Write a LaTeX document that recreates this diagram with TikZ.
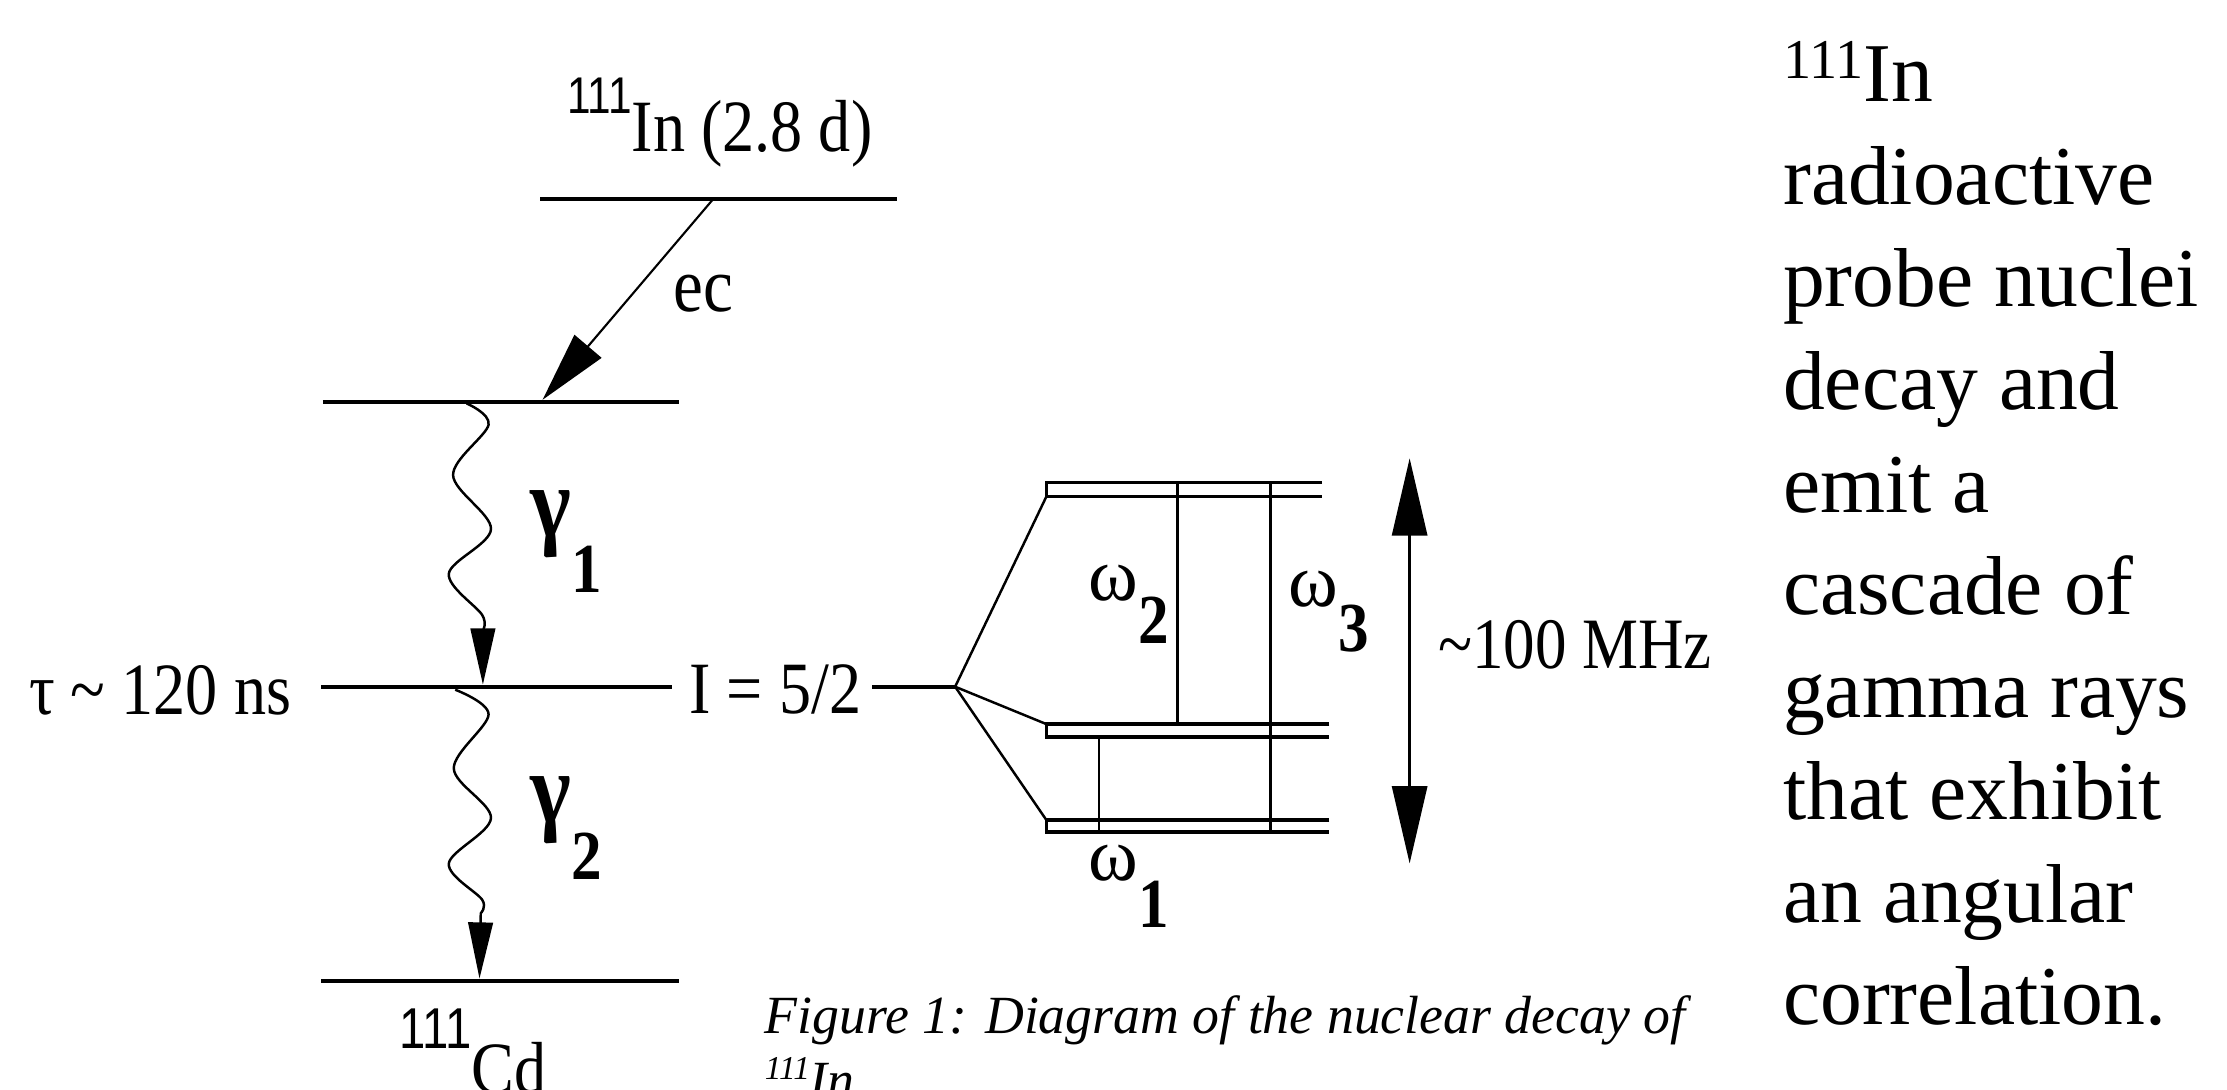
\documentclass[tikz,border=0pt]{standalone}
\usepackage{fontspec}
\setmainfont{Liberation Serif}
\newfontfamily\labf[FakeStretch=0.87]{Liberation Serif}
\newfontfamily\supf[FakeStretch=0.82]{Liberation Sans}
\usetikzlibrary{arrows.meta}
\begin{document}
\begin{tikzpicture}[x=0.4043pt,y=-0.4043pt,
  level/.style={line width=1.05pt},
  hf/.style={line width=0.95pt},
  thinline/.style={line width=0.7pt},
  wave/.style={line width=0.7pt,-{Triangle[length=16pt,width=7pt]}},
  lbl/.style={inner sep=0pt,anchor=base west,font=\labf\fontsize{21}{25}\selectfont},
  glbl/.style={inner sep=0pt,anchor=base west,font=\labf\bfseries\fontsize{28.5}{30}\selectfont},
  wlbl/.style={inner sep=0pt,anchor=base west,font=\fontsize{21.5}{24}\selectfont},
  txt/.style={inner sep=0pt,anchor=base west}]
\useasboundingbox (0,0) rectangle (1568,767);

% ---------- level coordinates
\coordinate (lv0L) at (380.5,140.1);
\coordinate (lv0R) at (631.5,140.1);
\coordinate (lv1L) at (227.3,282.8);
\coordinate (lv1R) at (477.8,282.8);
\coordinate (lv2L) at (226.3,483.5);
\coordinate (lv2R) at (473,483.5);
\coordinate (fanI) at (614,483.5);
\coordinate (fanO) at (672.5,483.5);
\coordinate (lv3L) at (226.3,690.5);
\coordinate (lv3R) at (478,690.5);

\draw[level] (lv0L) -- (lv0R);
\draw[level] (lv1L) -- (lv1R);
\draw[level] (lv2L) -- (lv2R);
\draw[level] (fanI) -- (fanO);
\draw[level] (lv3L) -- (lv3R);

% ---------- labels left part
\node[lbl] (inlab) at (399,106.8)
  {\raisebox{10.8pt}{\supf\fontsize{14.7}{15}\selectfont 111}In (2.8 d)};
\node[lbl,font=\labf\fontsize{22}{25}\selectfont] (ec) at (474,219.5) {ec};
\node[lbl] (tau) at (20,503) {τ \textasciitilde\ 120 ns};
\node[lbl] (spin) at (485,502.3) {I = 5/2};
\node[lbl] (cd) at (281,770)
  {\raisebox{12.9pt}{\supf\fontsize{16.4}{17}\selectfont 111}Cd};
\node[glbl] (g1lab) at (373,378)
  {γ\raisebox{-15.8pt}{\fontsize{20}{20}\selectfont 1}};
\node[glbl] (g2lab) at (373,579)
  {γ\raisebox{-16.2pt}{\fontsize{20}{20}\selectfont 2}};

% ---------- electron capture arrow
\coordinate (ecS) at (501.6,140.8);
\coordinate (ecE) at (382,281.5);
\draw[line width=0.6pt,-{Triangle[length=20pt,width=10pt]}] (ecS) -- (ecE);

% ---------- gamma cascades
\coordinate (g1S) at (328.5,284);
\coordinate (g1E) at (340,482);
\draw[wave] plot[smooth,tension=0.55] coordinates
  {(g1S) (344,299) (319,334.5) (345.7,372.5) (316,404) (339.5,433) (340,444)} -- (g1E);
\coordinate (g2S) at (320.5,485.6);
\coordinate (g2E) at (337.6,689);
\draw[wave] plot[smooth,tension=0.55] coordinates
  {(g2S) (344,503) (319.5,541) (345.7,576) (316,608) (339.5,633.5) (338.5,643)} -- (g2E);

% ---------- hyperfine splitting
\coordinate (tA) at (736.7,339.8); \coordinate (tB) at (736.7,349.7);
\coordinate (tAr) at (930.8,339.8); \coordinate (tBr) at (930.8,349.7);
\coordinate (mA) at (736.7,509.8); \coordinate (mB) at (736.7,518.9);
\coordinate (mAr) at (936,509.8); \coordinate (mBr) at (936,518.9);
\coordinate (bA) at (736.7,577.3); \coordinate (bB) at (736.7,585.8);
\coordinate (bAr) at (936,577.3); \coordinate (bBr) at (936,585.8);

\draw[thinline] (fanO) -- (tB);
\draw[thinline] (fanO) -- (mA);
\draw[thinline] (fanO) -- (bA);

\draw[hf] (tAr) -- (tA) -- (tB) -- (tBr);
\draw[hf] (mAr) -- (mA) -- (mB) -- (mBr);
\draw[hf] (bAr) -- (bA) -- (bB) -- (bBr);

\draw[thinline] (829,339.8) -- (829,509.8);
\draw[thinline] (894.5,339.8) -- (894.5,585.8);
\draw[thinline] (773.8,518.9) -- (773.8,585.8);

\node[wlbl] (w2) at (766,423)
  {ω\raisebox{-12.1pt}{\labf\bfseries\fontsize{20}{20}\selectfont 2}};
\node[wlbl] (w3) at (907,426.7)
  {ω\raisebox{-12.9pt}{\labf\bfseries\fontsize{20}{20}\selectfont 3}};
\node[wlbl] (w1) at (766,620)
  {ω\raisebox{-13.3pt}{\labf\bfseries\fontsize{20}{20}\selectfont 1}};

% ---------- splitting range arrow
\coordinate (rT) at (992.5,322.7);
\coordinate (rB) at (992.5,607.9);
\draw[line width=0.75pt,{Triangle[length=22pt,width=10pt]}-{Triangle[length=22pt,width=10pt]}] (rT) -- (rB);
\node[lbl,font=\labf\fontsize{20.6}{24}\selectfont] (mhz) at (1012,470.5) {\textasciitilde100 MHz};

% ---------- caption
\node[txt,font=\itshape\fontsize{15.3}{18.6}\selectfont] (cap) at (538,727.5)
  {\vtop{\hbox{Figure 1: Diagram of the nuclear decay of}
         \hbox{\raisebox{5.3pt}{\fontsize{9.5}{9.5}\selectfont 111}In}}};

% ---------- side text
\node[txt,font=\fontsize{23.8}{29.2}\selectfont] (desc) at (1255,71.6)
  {\vtop{\hbox{\raisebox{6.7pt}{\fontsize{16}{16}\selectfont 111}In}
         \hbox{radioactive}
         \hbox{probe nuclei}
         \hbox{decay and}
         \hbox{emit a}
         \hbox{cascade of}
         \hbox{gamma rays}
         \hbox{that exhibit}
         \hbox{an angular}
         \hbox{correlation.}}};
\end{tikzpicture}
\end{document}
